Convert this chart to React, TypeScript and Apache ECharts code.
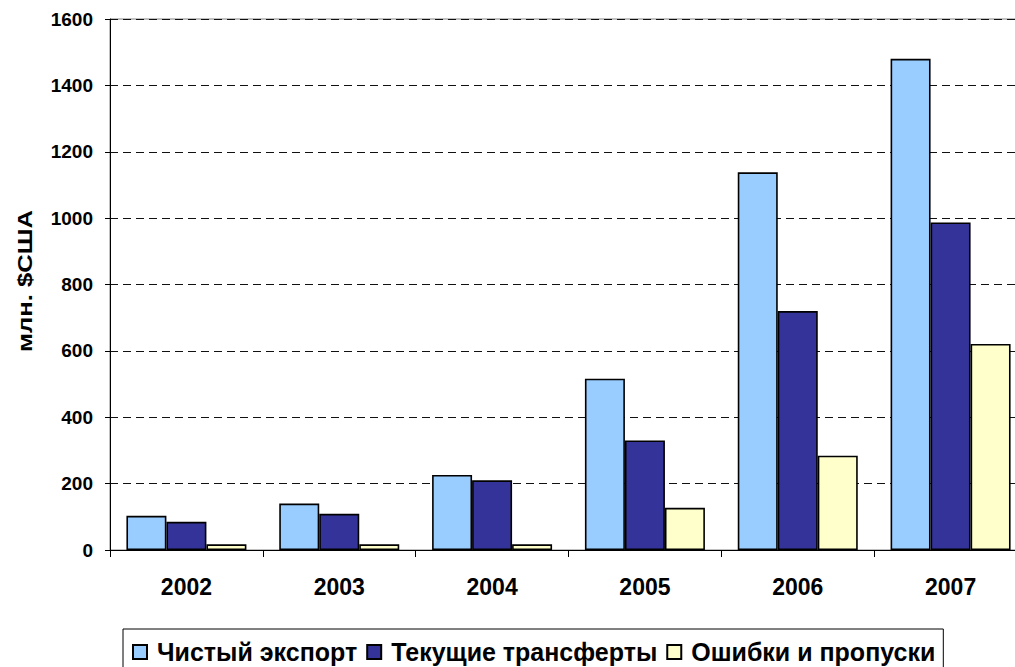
import React, { useEffect, useRef } from "react";
import * as echarts from "echarts";

const categories = ["2002", "2003", "2004", "2005", "2006", "2007"];
const seriesNames = ["Чистый экспорт", "Текущие трансферты", "Ошибки и пропуски"];
const netExport = [103, 140, 226, 516, 1138, 1480];
const transfers = [85, 109, 210, 330, 720, 987];
const errors = [17, 17, 17, 127, 284, 621];
const colors = ["#99CCFF", "#333399", "#FFFFCC"];
const yTitle = "млн. $США";

const FONT = "'Liberation Sans', Arial, sans-serif";

export default function App() {
  const ref = useRef<HTMLDivElement>(null);
  useEffect(() => {
    if (!ref.current) return;
    const chart = echarts.init(ref.current, null, { renderer: "svg" });
    const values = [netExport, transfers, errors];
    chart.setOption({
      animation: false,
      backgroundColor: "#ffffff",
      textStyle: { fontFamily: FONT },
      grid: {
        left: 110,
        top: 19,
        width: 917,
        height: 531,
        outerBoundsMode: "none",
        containLabel: false,
        show: true,
        borderColor: "#808080",
        borderWidth: 1,
        backgroundColor: "transparent",
      },
      legend: {
        left: 123,
        top: 629,
        orient: "horizontal",
        itemWidth: 14,
        itemHeight: 14,
        itemGap: 9,
        padding: [10, 8, 15, 9],
        borderColor: "#000",
        borderWidth: 1,
        borderRadius: 0,
        icon: "rect",
        textStyle: {
          fontFamily: FONT,
          fontWeight: "bold",
          fontSize: 25,
          lineHeight: 26,
          color: "#000",
          padding: [0, 0, 0, 5],
        },
        data: seriesNames,
      },
      xAxis: {
        type: "category",
        data: categories,
        axisLine: { lineStyle: { color: "#000", width: 1 } },
        axisTick: { show: true, length: 7, inside: false, alignWithLabel: false, lineStyle: { color: "#000" } },
        axisLabel: {
          fontFamily: FONT,
          fontWeight: "bold",
          fontSize: 23,
          color: "#000",
          margin: 25,
        },
        splitLine: { show: false },
      },
      yAxis: {
        type: "value",
        min: 0,
        max: 1600,
        interval: 200,
        axisLine: { show: true, lineStyle: { color: "#000", width: 1 } },
        axisTick: { show: true, length: 5, lineStyle: { color: "#000" } },
        axisLabel: {
          fontFamily: FONT,
          fontWeight: "bold",
          fontSize: 19,
          color: "#000",
          margin: 17,
          formatter: (v: number) => String(v),
        },
        splitLine: {
          show: true,
          lineStyle: { color: "#111", type: [8, 5], width: 1 },
        },
      },
      graphic: [
        {
          type: "text",
          x: 25,
          y: 281,
          rotation: Math.PI / 2,
          scaleX: 1.22,
          style: {
            text: yTitle,
            fontFamily: FONT,
            fontWeight: "bold",
            fontSize: 21,
            fill: "#000",
            textAlign: "center",
            textVerticalAlign: "middle",
          },
        },
      ],
      series: seriesNames.map((name, i) => ({
        name,
        type: "bar",
        data: values[i],
        barWidth: 40,
        barGap: "0%",
        itemStyle: { color: colors[i], borderColor: "#000", borderWidth: 1.6 },
      })),
    });
    return () => chart.dispose();
  }, []);
  return (
    <div style={{ position: "fixed", left: 0, top: 0, width: 1015, height: 667, overflow: "hidden", background: "#fff" }}>
      <div ref={ref} style={{ width: 1015, height: 667 }} />
    </div>
  );
}
